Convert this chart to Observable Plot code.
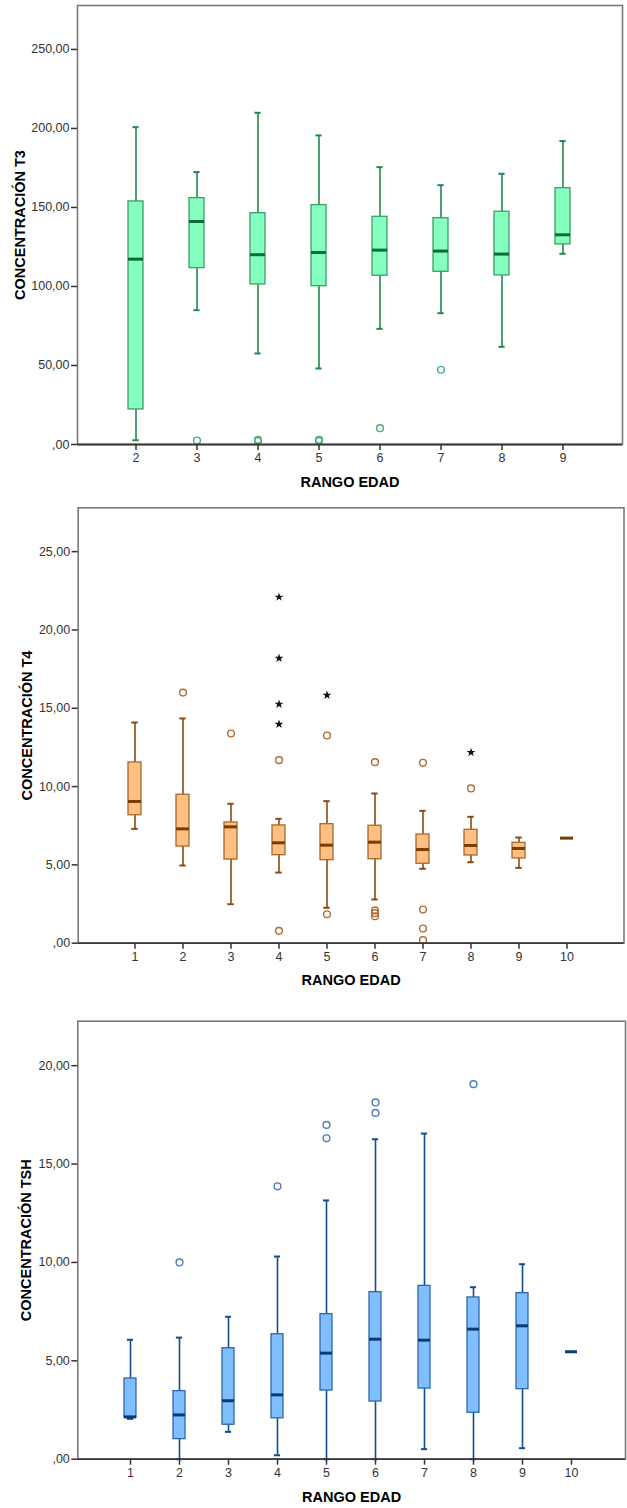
<!DOCTYPE html>
<html>
<head>
<meta charset="utf-8">
<script src="https://cdn.jsdelivr.net/npm/d3@7"></script>
<script src="https://cdn.jsdelivr.net/npm/@observablehq/plot@0.6"></script>
<style>
  html, body { margin: 0; padding: 0; background: #fff; }
  #charts svg { display: block; }
</style>
</head>
<body>
<div id="charts"></div>
<script>
// ---------- T3 ----------
const t3Groups = ["2", "3", "4", "5", "6", "7", "8", "9"];
const t3Low  = [2.7, 85.0, 57.6, 48.1, 73.2, 83.1, 61.8, 120.7];
const t3Q1   = [22.2, 111.6, 101.3, 100.2, 106.8, 109.3, 107.0, 126.6];
const t3Med  = [117.3, 141.1, 120.1, 121.5, 123.0, 122.4, 120.5, 132.7];
const t3Q3   = [153.8, 155.9, 146.4, 151.5, 144.1, 143.2, 147.3, 162.2];
const t3High = [200.8, 172.4, 209.9, 195.6, 175.5, 164.1, 171.3, 192.0];
const t3OutGroups = ["3", "4", "4", "5", "5", "6", "7"];
const t3OutValues = [2.5, 2.3, 3.0, 2.3, 3.0, 10.3, 47.3];
const t3ExtGroups = [];
const t3ExtValues = [];
const t3Ticks = [0, 50, 100, 150, 200, 250];

// ---------- T4 ----------
const t4Groups = ["1", "2", "3", "4", "5", "6", "7", "8", "9", "10"];
const t4Low  = [7.30, 4.96, 2.49, 4.51, 2.26, 2.79, 4.75, 5.17, 4.81, null];
const t4Q1   = [8.17, 6.17, 5.34, 5.62, 5.30, 5.36, 5.07, 5.60, 5.41, null];
const t4Med  = [9.05, 7.30, 7.43, 6.41, 6.26, 6.45, 5.98, 6.24, 6.05, 6.71];
const t4Q3   = [11.54, 9.48, 7.71, 7.52, 7.60, 7.50, 6.94, 7.24, 6.41, null];
const t4High = [14.09, 14.35, 8.90, 7.94, 9.07, 9.56, 8.45, 8.07, 6.75, null];
const t4OutGroups = ["2", "3", "4", "4", "5", "5", "6", "6", "6", "6", "7", "7", "7", "7", "8"];
const t4OutValues = [16.0, 13.39, 11.69, 0.79, 13.26, 1.85, 11.56, 2.09, 1.92, 1.72, 11.52, 2.15, 0.94, 0.19, 9.88];
const t4ExtGroups = ["4", "4", "4", "4", "5", "8"];
const t4ExtValues = [22.1, 18.2, 15.26, 13.98, 15.84, 12.18];
const t4Ticks = [0, 5, 10, 15, 20, 25];

// ---------- TSH ----------
const tshGroups = ["1", "2", "3", "4", "5", "6", "7", "8", "9", "10"];
const tshLow  = [2.05, 0.0, 1.39, 0.20, 0.0, 0.0, 0.51, 0.0, 0.56, null];
const tshQ1   = [2.10, 1.02, 1.75, 2.08, 3.49, 2.93, 3.59, 2.36, 3.56, null];
const tshMed  = [2.15, 2.25, 2.97, 3.27, 5.39, 6.10, 6.05, 6.61, 6.78, 5.46];
const tshQ3   = [4.10, 3.46, 5.64, 6.35, 7.37, 8.49, 8.81, 8.22, 8.44, null];
const tshHigh = [6.07, 6.18, 7.24, 10.30, 13.15, 16.26, 16.55, 8.74, 9.91, null];
const tshOutGroups = ["2", "4", "5", "5", "6", "6", "8"];
const tshOutValues = [10.0, 13.87, 16.99, 16.31, 18.13, 17.6, 19.06];
const tshExtGroups = [];
const tshExtValues = [];
const tshTicks = [0, 5, 10, 15, 20];

const fmt = d => d === 0 ? ",00" : d.toFixed(2).replace(".", ",");
const tickFont = "'Liberation Sans Narrow', 'Arial Narrow', 'Liberation Sans', Arial, sans-serif";
const labelFont = "'Liberation Sans', Arial, sans-serif";

function panel(o) {
  const boxes = o.groups.map((g, i) => ({g, low: o.low[i], q1: o.q1[i], med: o.med[i], q3: o.q3[i], high: o.high[i]}));
  const full = boxes.filter(d => d.q1 != null);
  const outs = o.outG.map((g, i) => ({g, v: o.outV[i]}));
  const exts = o.extG.map((g, i) => ({g, v: o.extV[i]}));
  return Plot.plot({
    width: 627,
    height: o.height,
    marginTop: o.mt, marginBottom: o.mb, marginLeft: o.ml, marginRight: o.mr,
    style: {fontFamily: tickFont, fontSize: "12.5px", color: "#222", background: "#fff"},
    x: {type: "band", domain: o.groups, paddingInner: o.pi, paddingOuter: o.po, axis: null},
    y: {domain: [0, o.ymax], axis: null},
    marks: [
      Plot.frame({stroke: "#7a7a7a", strokeWidth: 1.6}),
      // whiskers
      Plot.ruleX(full, {x: "g", y1: "low", y2: "q1", stroke: o.whisker, strokeWidth: 1.6}),
      Plot.ruleX(full, {x: "g", y1: "q3", y2: "high", stroke: o.whisker, strokeWidth: 1.6}),
      Plot.tickY(full, {x: "g", y: "low", stroke: o.whisker, strokeWidth: 2, inset: o.capInset}),
      Plot.tickY(full, {x: "g", y: "high", stroke: o.whisker, strokeWidth: 2, inset: o.capInset}),
      // boxes
      Plot.barY(full, {x: "g", y1: "q1", y2: "q3", fill: o.fill, stroke: o.stroke, strokeWidth: 1.3}),
      // medians
      Plot.tickY(boxes, {x: "g", y: "med", stroke: o.medColor, strokeWidth: 3}),
      // outliers (circles) and extremes (stars)
      Plot.dot(outs, {x: "g", y: "v", r: 3.4, stroke: o.outColor, strokeWidth: 1.4, fill: "none"}),
      Plot.dot(exts, {x: "g", y: "v", r: 2.8, symbol: "star", fill: "#111", stroke: "none"}),
      // axis lines
      Plot.ruleY([0], {stroke: "#3a3a3a", strokeWidth: 1.8}),
      Plot.axisY({ticks: o.ticks, tickFormat: fmt, tickSize: 6, tickPadding: 2, label: null, color: "#333", fontSize: 12.5, strokeWidth: 1.5}),
      Plot.axisX({tickSize: 6, tickPadding: 3, label: null, color: "#333", fontSize: 12.5, strokeWidth: 1.5}),
      // titles
      Plot.text([o.label], {text: d => d, frameAnchor: "left", rotate: -90, dx: o.ylabDx, textAnchor: "middle", lineAnchor: "middle", fontWeight: "bold", fontSize: 14.5, fontFamily: labelFont, fill: "#000"}),
      Plot.text(["RANGO EDAD"], {text: d => d, frameAnchor: "bottom", dy: o.xlabDy, textAnchor: "middle", lineAnchor: "middle", fontWeight: "bold", fontSize: 14.5, fontFamily: labelFont, fill: "#000"})
    ]
  });
}

const host = document.getElementById("charts");

host.appendChild(panel({
  groups: t3Groups, low: t3Low, q1: t3Q1, med: t3Med, q3: t3Q3, high: t3High,
  outG: t3OutGroups, outV: t3OutValues, extG: t3ExtGroups, extV: t3ExtValues,
  ticks: t3Ticks, ymax: 277.8, label: "CONCENTRACIÓN T3",
  height: 500, mt: 5, mb: 56, ml: 77, mr: 5,
  pi: 0.754, po: 0.839, capInset: 4.4,
  fill: "#85ffbf", stroke: "#3d9e66", whisker: "#1f8a4e", medColor: "#0d6a34", outColor: "#4fae78",
  ylabDx: -57, xlabDy: 37.7
}));

host.appendChild(panel({
  groups: t4Groups, low: t4Low, q1: t4Q1, med: t4Med, q3: t4Q3, high: t4High,
  outG: t4OutGroups, outV: t4OutValues, extG: t4ExtGroups, extV: t4ExtValues,
  ticks: t4Ticks, ymax: 27.8, label: "CONCENTRACIÓN T4",
  height: 500, mt: 7.3, mb: 57.3, ml: 77.7, mr: 3.5,
  pi: 0.734, po: 0.944, capInset: 3.3,
  fill: "#ffbf80", stroke: "#a8682e", whisker: "#8c4a10", medColor: "#7a3c00", outColor: "#b06c34",
  ylabDx: -51, xlabDy: 37.3
}));

host.appendChild(panel({
  groups: tshGroups, low: tshLow, q1: tshQ1, med: tshMed, q3: tshQ3, high: tshHigh,
  outG: tshOutGroups, outV: tshOutValues, extG: tshExtGroups, extV: tshExtValues,
  ticks: tshTicks, ymax: 22.26, label: "CONCENTRACIÓN TSH",
  height: 508, mt: 20.7, mb: 49.3, ml: 77.3, mr: 2,
  pi: 0.747, po: 0.924, capInset: 2.9,
  fill: "#80bfff", stroke: "#2f68a8", whisker: "#144c8c", medColor: "#0a3a72", outColor: "#4a7ebc",
  ylabDx: -51, xlabDy: 38
}));
</script>
</body>
</html>
